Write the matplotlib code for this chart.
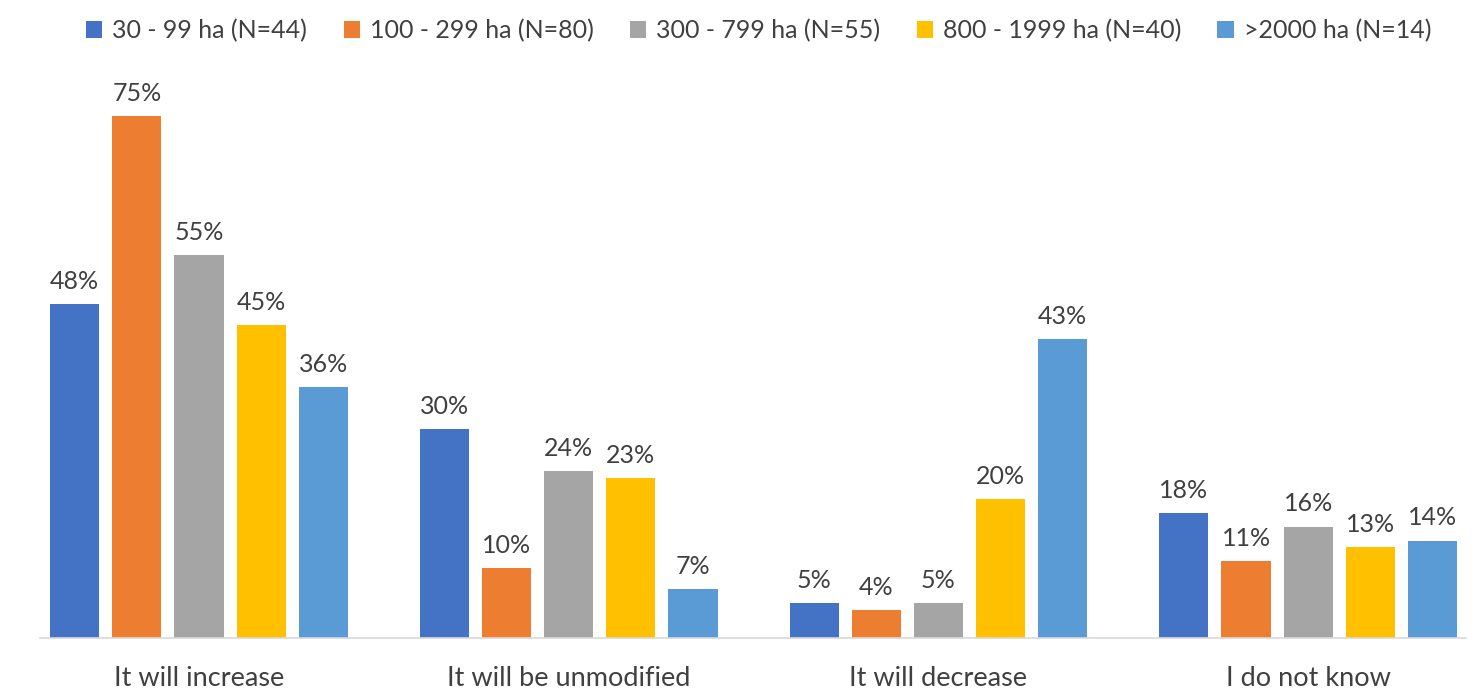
import matplotlib.pyplot as plt
import numpy as np

# data
categories = ["It will increase", "It will be unmodified", "It will decrease", "I do not know"]
series = ["30 - 99 ha (N=44)", "100 - 299 ha (N=80)", "300 - 799 ha (N=55)",
          "800 - 1999 ha (N=40)", ">2000 ha (N=14)"]
v_30_99 = [48, 30, 5, 18]
v_100_299 = [75, 10, 4, 11]
v_300_799 = [55, 24, 5, 16]
v_800_1999 = [45, 23, 20, 13]
v_2000 = [36, 7, 43, 14]
values = [v_30_99, v_100_299, v_300_799, v_800_1999, v_2000]
colors = ["#4472C4", "#ED7D31", "#A5A5A5", "#FFC000", "#5B9BD5"]

plt.rcParams['font.family'] = ['Lato', 'DejaVu Sans']

fig = plt.figure(figsize=(14.76, 6.9), dpi=100)
ax = fig.add_axes([40 / 1476, 52 / 690, 1426 / 1476, 557 / 690])

x = np.arange(len(categories))
pitch = 0.168
width = 0.133
for i, (vals, col, name) in enumerate(zip(values, colors, series)):
    pos = x + (i - 2) * pitch
    bars = ax.bar(pos, vals, width, color=col, label=name)
    for b, v in zip(bars, vals):
        ax.annotate(f"{v}%", (b.get_x() + b.get_width() / 2, v),
                    xytext=(0, 8), textcoords="offset points",
                    ha="center", va="bottom", fontsize=18, color="#404040")

ax.set_xlim(-0.43, 3.427)
ax.set_ylim(0, 80)
ax.set_xticks(x)
ax.set_xticklabels(categories, fontsize=19.5, color="#404040")
ax.tick_params(axis="x", length=0, pad=20)
ax.set_yticks([])
for s in ["top", "right", "left"]:
    ax.spines[s].set_visible(False)
ax.spines["bottom"].set_color("#D9D9D9")
ax.spines["bottom"].set_linewidth(1.2)

fig.legend(loc="upper center", bbox_to_anchor=(0.514, 1.005), ncol=5, frameon=False,
           fontsize=18, handlelength=0.65, handleheight=0.65, handletextpad=0.4,
           columnspacing=1.45, labelcolor="#404040")

fig.savefig("out.png", dpi=100)
